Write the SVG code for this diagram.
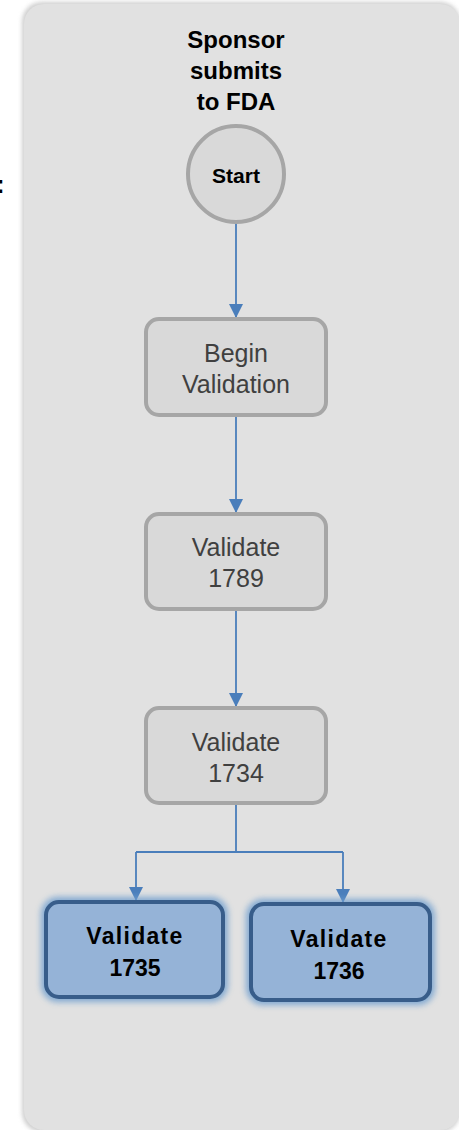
<svg xmlns="http://www.w3.org/2000/svg" width="459" height="1130" viewBox="0 0 459 1130">
<defs>
<style>
.gray{fill:#d9d9d9;stroke:#a6a6a6;stroke-width:4}
.blue{fill:#95b3d7;stroke:#385d8a;stroke-width:4}
.t{font-family:"Liberation Sans",Arial,sans-serif;text-anchor:middle}
.tn{font-size:25px;fill:#404040}
.tb{font-size:23px;font-weight:bold;fill:#000}
.th{font-size:24px;font-weight:bold;fill:#000}
.conn{fill:none;stroke:#4a7ebb;stroke-width:1.8}
.halo{fill:#6f9fcf;opacity:0.85}
</style>
<marker id="ah" markerWidth="14" markerHeight="14" viewBox="0 0 14 14" refX="13" refY="7" orient="auto" markerUnits="userSpaceOnUse">
<path d="M0,0 L14,7 L0,14 Z" fill="#4a7ebb"/>
</marker>
<filter id="soft" x="-5%" y="-5%" width="110%" height="110%">
<feGaussianBlur stdDeviation="2"/>
</filter>
<filter id="glow" x="-20%" y="-20%" width="140%" height="140%">
<feGaussianBlur stdDeviation="3"/>
</filter>
</defs>
<rect x="0" y="0" width="459" height="1130" fill="#ffffff"/>
<g id="panel">
<rect x="22" y="2" width="438" height="1130" rx="20" fill="#cfcfcf" filter="url(#soft)"/>
<rect x="24" y="4" width="436" height="1126" rx="20" fill="#e1e1e1"/>
</g>
<text x="-4" y="193" font-family="Liberation Sans,Arial,sans-serif" font-size="26" font-weight="bold" fill="#000">:</text>
<g id="title">
<text class="t th" x="236" y="48">Sponsor</text>
<text class="t th" x="236" y="79">submits</text>
<text class="t th" x="236" y="110">to FDA</text>
</g>
<g id="connectors">
<path class="conn" d="M236,224 L236,317" marker-end="url(#ah)"/>
<path class="conn" d="M236,417 L236,512" marker-end="url(#ah)"/>
<path class="conn" d="M236,610 L236,706" marker-end="url(#ah)"/>
<path class="conn" d="M236,805 L236,852 M136,852 L343,852"/>
<path class="conn" d="M136,852 L136,900" marker-end="url(#ah)"/>
<path class="conn" d="M343,852 L343,902" marker-end="url(#ah)"/>
</g>
<g id="start">
<circle class="gray" cx="236" cy="174" r="48"/>
<text class="t" x="236" y="183" font-size="21" font-weight="bold" fill="#000">Start</text>
</g>
<g id="begin">
<rect class="gray" x="146" y="319" width="180" height="96" rx="13"/>
<text class="t tn" x="236" y="362">Begin</text>
<text class="t tn" x="236" y="393">Validation</text>
</g>
<g id="v1789">
<rect class="gray" x="146" y="514" width="180" height="95" rx="13"/>
<text class="t tn" x="236" y="556">Validate</text>
<text class="t tn" x="236" y="587">1789</text>
</g>
<g id="v1734">
<rect class="gray" x="146" y="708" width="180" height="95" rx="13"/>
<text class="t tn" x="236" y="751">Validate</text>
<text class="t tn" x="236" y="782">1734</text>
</g>
<g id="v1735">
<rect class="halo" x="41" y="897" width="187" height="105" rx="17" filter="url(#glow)"/>
<rect class="blue" x="46" y="902" width="177" height="95" rx="13"/>
<text class="t tb" x="135" y="944" letter-spacing="1.3">Validate</text>
<text class="t tb" x="135" y="976">1735</text>
</g>
<g id="v1736">
<rect class="halo" x="246" y="899" width="189" height="106" rx="17" filter="url(#glow)"/>
<rect class="blue" x="251" y="904" width="179" height="96" rx="13"/>
<text class="t tb" x="339" y="947" letter-spacing="1.3">Validate</text>
<text class="t tb" x="339" y="979">1736</text>
</g>
</svg>
